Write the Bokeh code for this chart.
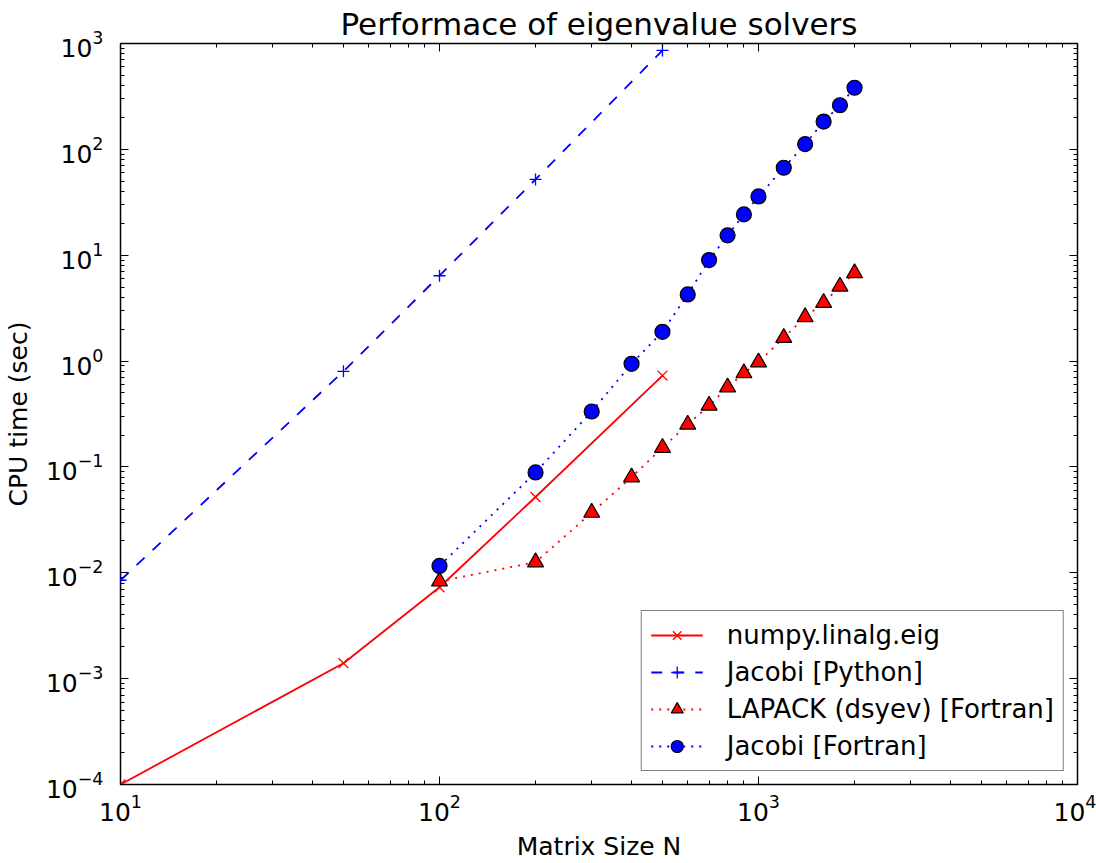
from bokeh.plotting import figure
from bokeh.embed import file_html
from bokeh.resources import INLINE
from bokeh.models import LogAxis, LogTicker, CustomJSTickFormatter, Legend, LegendItem

# data
numpy_n = [10, 50, 100, 200, 500]
numpy_t = [1.0e-4, 1.4e-3, 7.3e-3, 0.052, 0.73]

pyjac_n = [10, 50, 100, 200, 500]
pyjac_t = [8.5e-3, 0.80, 6.4, 52, 860]

lapack_n = [100, 200, 300, 400, 500, 600, 700, 800, 900, 1000, 1200, 1400, 1600, 1800, 2000]
lapack_t = [8.3e-3, 0.0126, 0.037, 0.080, 0.152, 0.252, 0.380, 0.566, 0.769, 0.975, 1.66, 2.60, 3.56, 5.07, 6.78]

fjac_n = [100, 200, 300, 400, 500, 600, 700, 800, 900, 1000, 1200, 1400, 1600, 1800, 2000]
fjac_t = [0.0116, 0.0887, 0.334, 0.942, 1.89, 4.26, 9.0, 15.4, 24.3, 35.9, 67, 112, 183, 261, 382]

FONT = "DejaVu Sans"

p = figure(width=1096, height=863, x_axis_type="log", y_axis_type="log",
           x_range=(10, 1e4), y_range=(1e-4, 1e3),
           output_backend="svg", toolbar_location=None,
           min_border_left=116, min_border_right=19, min_border_top=43, min_border_bottom=79,
           title="Performace of eigenvalue solvers")
p.title.align = "center"
p.title.text_font = FONT
p.title.text_font_size = "31px"
p.title.text_font_style = "normal"
p.title.text_color = "black"
p.title.standoff = 4

p.grid.visible = False
p.outline_line_color = "black"
p.outline_line_width = 1.5
p.background_fill_color = "white"
p.border_fill_color = "white"

p.xaxis.axis_label = "Matrix Size N"
p.yaxis.axis_label = "CPU time (sec)"

def style_axis(ax, labels=True):
    ax.ticker = LogTicker(num_minor_ticks=10)
    ax.major_tick_in = 8
    ax.major_tick_out = 0
    ax.minor_tick_in = 4
    ax.minor_tick_out = 0
    ax.major_tick_line_color = "black"
    ax.minor_tick_line_color = "black"
    ax.major_tick_line_width = 1
    ax.axis_line_color = None
    ax.major_label_text_font = FONT
    ax.major_label_text_font_size = "25px"
    ax.major_label_text_color = "black"
    ax.axis_label_text_font = FONT
    ax.axis_label_text_font_size = "25px"
    ax.axis_label_text_font_style = "normal"
    ax.axis_label_text_color = "black"
    if not labels:
        ax.formatter = CustomJSTickFormatter(code="return ''")
        ax.major_label_standoff = 0
        ax.major_label_text_font_size = "0px"

for ax in p.xaxis:
    style_axis(ax)
    ax.major_label_standoff = 9
    ax.axis_label_standoff = 8
for ax in p.yaxis:
    style_axis(ax)
    ax.major_label_standoff = 17
    ax.axis_label_standoff = 10

top_ax = LogAxis()
style_axis(top_ax, labels=False)
p.add_layout(top_ax, "above")
right_ax = LogAxis()
style_axis(right_ax, labels=False)
p.add_layout(right_ax, "right")

RED = "#ff0000"
BLUE = "#0000ff"

l1 = p.line(numpy_n, numpy_t, line_color=RED, line_width=1.8)
s1 = p.scatter(numpy_n, numpy_t, marker="x", size=14, line_color=RED, line_width=1.3)

l2 = p.line(pyjac_n, pyjac_t, line_color=BLUE, line_width=1.8, line_dash="11 11")
s2 = p.scatter(pyjac_n, pyjac_t, marker="cross", size=12, line_color=BLUE, line_width=1.3)

l3 = p.line(lapack_n, lapack_t, line_color=RED, line_width=1.8, line_dash="2 6")
s3 = p.scatter(lapack_n, lapack_t, marker="triangle", size=16, fill_color=RED,
               line_color="black", line_width=1.2)

l4 = p.line(fjac_n, fjac_t, line_color=BLUE, line_width=1.8, line_dash="2 6")
s4 = p.scatter(fjac_n, fjac_t, marker="circle", size=15, fill_color=BLUE,
               line_color="black", line_width=1.2)

legend = Legend(items=[
    LegendItem(label="numpy.linalg.eig", renderers=[l1, s1]),
    LegendItem(label="Jacobi [Python]", renderers=[l2, s2]),
    LegendItem(label="LAPACK (dsyev) [Fortran]", renderers=[l3, s3]),
    LegendItem(label="Jacobi [Fortran]", renderers=[l4, s4]),
], location="bottom_right")
legend.label_text_font = FONT
legend.label_text_font_size = "26px"
legend.label_text_color = "black"
legend.border_line_color = "black"
legend.border_line_width = 1.5
legend.glyph_width = 52
legend.glyph_height = 30
legend.label_height = 30
legend.spacing = 7
legend.padding = 9
legend.margin = 13
legend.label_standoff = 24
legend.background_fill_alpha = 1.0
p.add_layout(legend, "center")

open("out.html", "w").write(file_html(p, INLINE))
